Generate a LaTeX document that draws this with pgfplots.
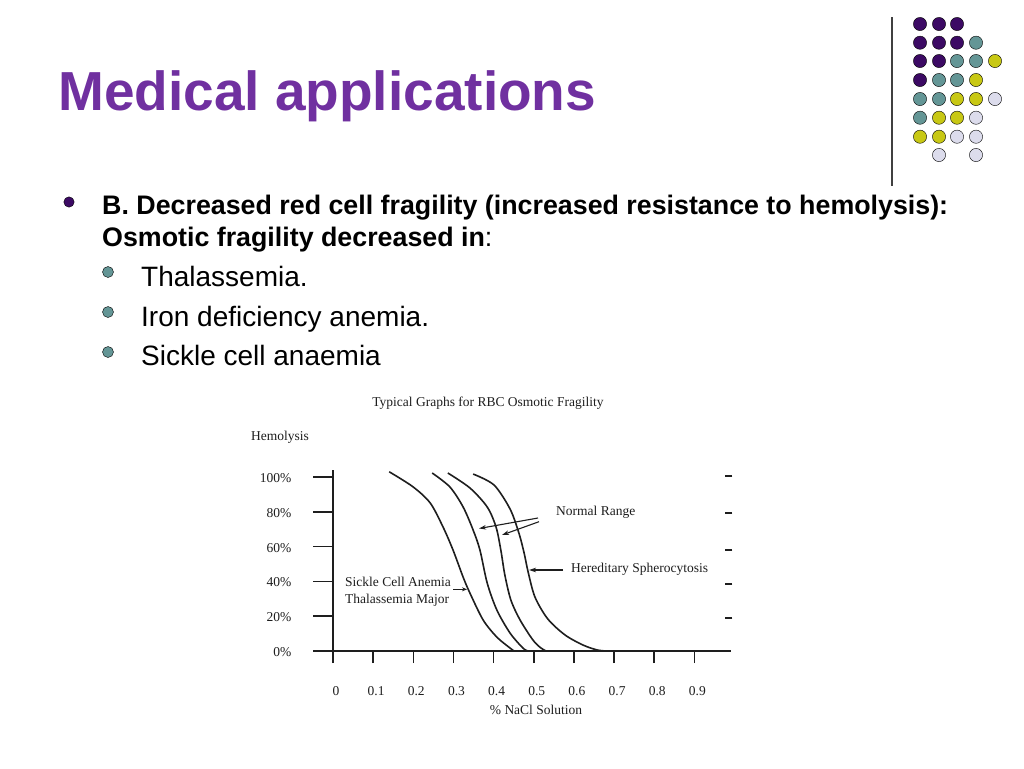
\documentclass[border=0pt]{standalone}
\usepackage{fontspec}
\setmainfont{Liberation Sans}
\newfontfamily\chartfont{Liberation Serif}
\usepackage{pgfplots}
\usepackage{pgfplotstable}
\pgfplotsset{compat=1.18}
\usetikzlibrary{arrows.meta}

\definecolor{titlepurple}{RGB}{112,48,160}
\definecolor{darkpurple}{RGB}{60,10,100}
\definecolor{dotteal}{RGB}{100,150,150}
\definecolor{dotyellow}{RGB}{200,200,20}
\definecolor{dotlav}{RGB}{220,220,236}
\definecolor{chartblack}{RGB}{30,30,30}

\newcommand{\cf}{\chartfont\fontsize{13.5}{15}\selectfont}

\pgfplotstableread{
x y
0.140 103.0
0.199 94.4
0.242 85.1
0.274 71.3
0.299 58.0
0.324 42.5
0.341 33.3
0.374 17.8
0.408 8.0
0.441 1.7
0.451 0.0
}\sickle

\pgfplotstableread{
x y
0.247 102.3
0.291 94.3
0.324 82.8
0.349 69.5
0.366 58.0
0.384 39.1
0.408 23.6
0.441 10.3
0.473 1.7
0.486 0.0
}\normlow

\pgfplotstableread{
x y
0.286 102.3
0.341 93.7
0.384 82.8
0.406 71.3
0.418 58.0
0.428 43.7
0.443 29.3
0.466 17.8
0.498 6.3
0.518 1.7
0.531 0.0
}\normhigh

\pgfplotstableread{
x y
0.349 101.7
0.401 95.4
0.441 81.6
0.463 67.8
0.476 56.3
0.486 45.4
0.503 31.0
0.535 18.4
0.578 9.2
0.623 3.4
0.658 0.6
0.682 0.0
}\hs

\begin{document}
\begin{tikzpicture}
\path[use as bounding box, fill=white] (0pt,0pt) rectangle (1024pt,-768pt);

% slide decoration in pixel coordinates
\begin{axis}[at={(0pt,0pt)}, anchor=north west, x=1pt, y=1pt,
  xmin=0, xmax=1024, ymin=0, ymax=768, y dir=reverse, hide axis, clip=false]
\addplot[only marks, mark=*, mark size=6.6pt, mark options={draw=none, fill=darkpurple}] coordinates {
(920,24) (939,24) (957,24)
(920,42.7) (939,42.7) (957,42.7)
(920,61) (939,61)
(920,80)};
\addplot[only marks, mark=*, mark size=6.6pt, mark options={draw=none, fill=dotteal}] coordinates {
(976,42.7) (957,61) (976,61) (939,80) (957,80) (920,99) (939,99) (920,117.7)};
\addplot[only marks, mark=*, mark size=6.6pt, mark options={draw=none, fill=dotyellow}] coordinates {
(995,61) (976,80) (957,99) (976,99) (939,117.7) (957,117.7) (920,136.7) (939,136.7)};
\addplot[only marks, mark=*, mark size=6.6pt, mark options={draw=none, fill=dotlav}] coordinates {
(995,99) (976,117.7) (957,136.7) (976,136.7) (939,155) (976,155)};
\addplot[no marks, color=black!75, line width=1.5pt] coordinates {(892,17) (892,186)};
\addplot[only marks, mark=*, mark size=5.2pt, mark options={draw=none, fill=darkpurple}] coordinates {(69,202)};
\addplot[only marks, mark=*, mark size=5.5pt, mark options={draw=none, fill=dotteal}] coordinates {(108,272) (108,312) (108,352)};
\end{axis}

% slide text
\node[anchor=base west, inner sep=0, text=titlepurple, font=\fontsize{55}{60}\selectfont\bfseries] at (58pt,-110pt) {Medical applications};
\node[anchor=base west, inner sep=0, font=\fontsize{26.8}{30}\selectfont\bfseries] at (102pt,-214pt) {B. Decreased red cell fragility (increased resistance to hemolysis):};
\node[anchor=base west, inner sep=0, font=\fontsize{26.8}{30}\selectfont] at (102pt,-246pt) {\textbf{Osmotic fragility decreased in}:};
\node[anchor=base west, inner sep=0, font=\fontsize{28}{32}\selectfont] at (141pt,-286pt) {Thalassemia.};
\node[anchor=base west, inner sep=0, font=\fontsize{28}{32}\selectfont] at (141pt,-326pt) {Iron deficiency anemia.};
\node[anchor=base west, inner sep=0, font=\fontsize{28}{32}\selectfont] at (141pt,-365pt) {Sickle cell anaemia};

% chart: y axis with long ticks
\begin{axis}[at={(333pt,-651pt)}, anchor=origin, x=401.5pt, y=1.74pt,
  xmin=-0.045, xmax=0.99, ymin=0, ymax=104, clip=false,
  axis x line=none, axis y line=middle,
  axis line style={-, line width=1.6pt, color=chartblack},
  xtick=\empty, ytick={0,20,40,60,80,100},
  yticklabels={0\%,20\%,40\%,60\%,80\%,100\%},
  tick align=outside, major tick length=20pt,
  tick style={line width=1.6pt, color=chartblack},
  yticklabel style={font=\cf, text=chartblack, xshift=-18pt, yshift=-1pt},
  hide obscured y ticks=false]
\end{axis}

% chart: main axis with curves
\begin{axis}[at={(333pt,-651pt)}, anchor=origin, x=401.5pt, y=1.74pt,
  xmin=-0.045, xmax=0.99, ymin=0, ymax=104, clip=false,
  axis lines=middle,
  axis line style={-, line width=1.6pt, color=chartblack},
  xtick={0,0.1,0.2,0.3,0.4,0.5,0.6,0.7,0.8,0.9},
  xticklabels={0,0.1,0.2,0.3,0.4,0.5,0.6,0.7,0.8,0.9},
  ytick=\empty,
  tick align=outside, major tick length=12pt,
  tick style={line width=1.6pt, color=chartblack},
  xticklabel style={font=\cf, text=chartblack, yshift=-20pt, xshift=3pt},
  hide obscured x ticks=false]
\addplot[smooth, line width=1.6pt, color=chartblack] table {\sickle};
\addplot[smooth, line width=1.6pt, color=chartblack] table {\normlow};
\addplot[smooth, line width=1.6pt, color=chartblack] table {\normhigh};
\addplot[smooth, line width=1.6pt, color=chartblack] table {\hs};
\addplot[only marks, mark=-, mark size=3.5pt, mark options={line width=2.2pt, color=chartblack}] coordinates {
(0.986,100.6) (0.986,79.1) (0.986,58.0) (0.986,38.5) (0.986,18.8)};
\end{axis}

% chart annotations
\node[font=\cf, text=chartblack] at (488pt,-403pt) {Typical Graphs for RBC Osmotic Fragility};
\node[font=\cf, text=chartblack] at (280pt,-437pt) {Hemolysis};
\node[font=\cf, text=chartblack] at (536pt,-710pt) {\% NaCl Solution};
\node[font=\cf, text=chartblack, anchor=west, inner sep=0] at (556pt,-512pt) {Normal Range};
\node[font=\cf, text=chartblack, anchor=west, inner sep=0] at (571pt,-569pt) {Hereditary Spherocytosis};
\node[font=\cf, text=chartblack, anchor=west, inner sep=0] at (345pt,-582pt) {Sickle Cell Anemia};
\node[font=\cf, text=chartblack, anchor=west, inner sep=0] at (345pt,-600pt) {Thalassemia Major};
\draw[chartblack, line width=1.1pt, -{Stealth[length=7pt,width=4.5pt]}] (538pt,-518pt) -- (479pt,-528.5pt);
\draw[chartblack, line width=1.1pt, -{Stealth[length=7pt,width=4.5pt]}] (539pt,-521.7pt) -- (502pt,-535pt);
\draw[chartblack, line width=1.1pt, -{Stealth[length=7pt,width=4.5pt]}] (563pt,-570pt) -- (529pt,-570pt);
\draw[chartblack, line width=0.9pt, -{Stealth[length=5pt,width=4pt]}] (453pt,-589.3pt) -- (467pt,-589.3pt);
\end{tikzpicture}
\end{document}
